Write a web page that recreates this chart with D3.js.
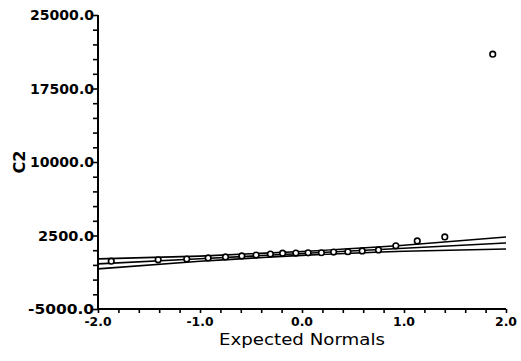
<!DOCTYPE html>
<html>
<head>
<meta charset="utf-8">
<script src="https://cdn.jsdelivr.net/npm/d3@7"></script>
<style>
  html, body { margin: 0; padding: 0; background: #fff; }
  svg { display: block; }
  text { font-family: "DejaVu Sans", "Liberation Sans", Arial, sans-serif; fill: #000; }
</style>
</head>
<body>
<svg id="chart" width="521" height="361"></svg>
<script>
// Expected normal scores (x) and observed C2 values (y)
const expectedNormals = [-1.87, -1.41, -1.13, -0.92, -0.75, -0.59, -0.45, -0.31, -0.19, -0.06,
                          0.06, 0.19, 0.31, 0.45, 0.59, 0.75, 0.92, 1.13, 1.40, 1.87];
const c2Values = [-120, 20, 90, 210, 310, 420, 500, 610, 700, 710,
                  730, 740, 810, 840, 930, 1030, 1450, 1950, 2350, 21000];

// Fitted line and confidence bands
const bandX = [-2, -1, 0, 1, 2];
const fitLine = [-400, 130, 667, 1200, 1735];
const upperBand = [110, 400, 870, 1500, 2345];
const lowerBand = [-910, -130, 470, 900, 1125];

// Axis ticks
const yLabelTicks = [-5000, 2500, 10000, 17500, 25000];
const yMinorTicks = d3.range(-5000, 25001, 1500);
const xLabelTicks = [-2, -1, 0, 1, 2];
const xMinorTicks = d3.range(-2, 2.0001, 0.2);

const svg = d3.select("#chart");
const x = d3.scaleLinear().domain([-2, 2]).range([98, 506]);
const y = d3.scaleLinear().domain([-5000, 25000]).range([309, 15]);

// Y axis
const yAxis = svg.append("g").attr("transform", "translate(98,0)");
yAxis.call(d3.axisLeft(y).tickValues(yMinorTicks).tickSize(5).tickFormat(""));
yAxis.select(".domain").attr("stroke-width", 2).attr("d", `M0,${y(25000)}V${y(-5000)}`);
yAxis.selectAll(".tick line").attr("stroke-width", 1.6);
yAxis.selectAll(".ylab").data(yLabelTicks).join("text")
  .attr("class", "ylab")
  .attr("x", -4)
  .attr("y", d => y(d))
  .attr("dy", "0.36em")
  .attr("text-anchor", "end")
  .attr("font-size", 14)
  .attr("font-weight", "bold")
  .attr("textLength", d => d < 0 ? 66 : (d >= 10000 ? 64 : 56))
  .attr("lengthAdjust", "spacingAndGlyphs")
  .text(d => d.toFixed(1));

// X axis
const xAxis = svg.append("g").attr("transform", "translate(0,309)");
xAxis.call(d3.axisBottom(x).tickValues(xMinorTicks).tickSize(4).tickFormat(""));
xAxis.select(".domain").attr("stroke-width", 2).attr("d", `M${x(-2)},0H${x(2)}`);
xAxis.selectAll(".tick line").attr("stroke-width", 1.6);
xAxis.selectAll(".xlab").data(xLabelTicks).join("text")
  .attr("class", "xlab")
  .attr("x", d => x(d))
  .attr("y", 17)
  .attr("text-anchor", "middle")
  .attr("font-size", 12)
  .attr("font-weight", "bold")
  .attr("textLength", d => d < 0 ? 27 : 22)
  .attr("lengthAdjust", "spacingAndGlyphs")
  .text(d => d.toFixed(1));

// Axis titles
svg.append("text")
  .attr("x", x(0))
  .attr("y", 345)
  .attr("text-anchor", "middle")
  .attr("font-size", 15)
  .attr("textLength", 166)
  .attr("lengthAdjust", "spacingAndGlyphs")
  .text("Expected Normals");

svg.append("text")
  .attr("transform", `translate(25,${y(10000)}) rotate(-90)`)
  .attr("text-anchor", "middle")
  .attr("font-size", 16)
  .attr("font-weight", "bold")
  .text("C2");

// Fit line and bands
const line = d3.line().x(d => x(d[0])).y(d => y(d[1])).curve(d3.curveNatural);
[fitLine, upperBand, lowerBand].forEach(series => {
  svg.append("path")
    .datum(bandX.map((bx, i) => [bx, series[i]]))
    .attr("d", line)
    .attr("fill", "none")
    .attr("stroke", "#000")
    .attr("stroke-width", 1.6);
});

// Points
svg.append("g").selectAll("circle")
  .data(expectedNormals.map((e, i) => [e, c2Values[i]]))
  .join("circle")
  .attr("cx", d => x(d[0]))
  .attr("cy", d => y(d[1]))
  .attr("r", 2.8)
  .attr("fill", "#fff")
  .attr("stroke", "#000")
  .attr("stroke-width", 1.6);
</script>
</body>
</html>
